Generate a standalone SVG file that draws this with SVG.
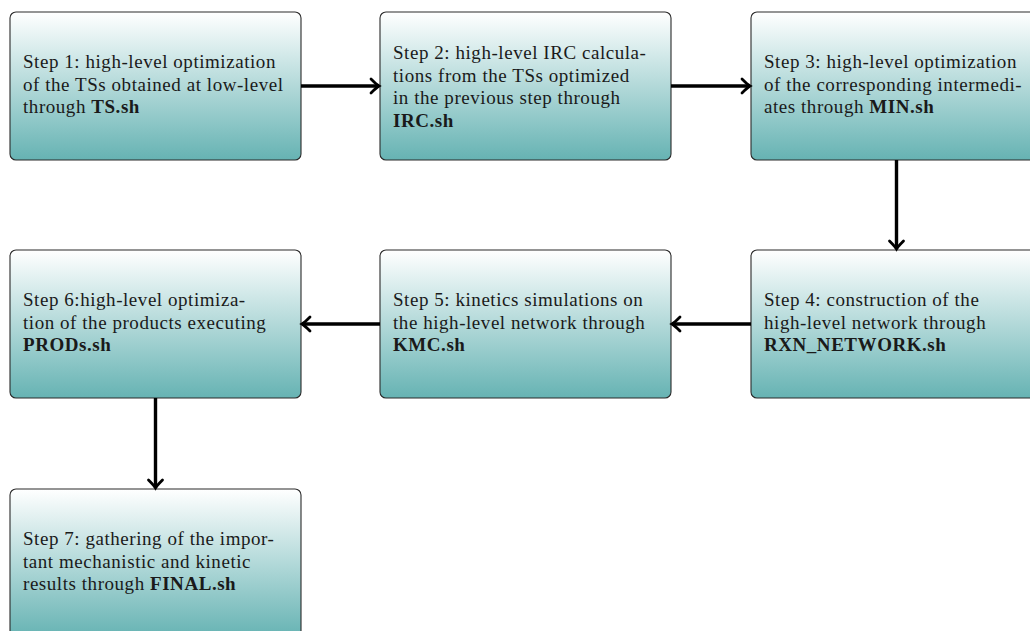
<svg xmlns="http://www.w3.org/2000/svg" width="1030" height="631" viewBox="0 0 1030 631">
<defs>
<linearGradient id="g" x1="0" y1="0" x2="0" y2="1">
<stop offset="0" stop-color="#ffffff"/>
<stop offset="1" stop-color="#66b3b3"/>
</linearGradient>
<marker id="ah" markerUnits="userSpaceOnUse" markerWidth="20" markerHeight="20" viewBox="-10 -10 20 20" refX="0" refY="0" orient="auto">
<path d="M -8 -7 Q -2.5 -1.5 0 0 Q -2.5 1.5 -8 7" fill="none" stroke="#000" stroke-width="2.8" stroke-linecap="round"/>
</marker>
</defs>
<style>
.box{fill:url(#g);stroke:#2a2a2a;stroke-width:1.1}
.t{font-family:"Liberation Serif","Times New Roman",serif;font-size:19px;letter-spacing:0.55px;fill:#1a1a1a}
.b{font-weight:bold}
.c{stroke:#000;stroke-width:3.4;fill:none;marker-end:url(#ah)}
</style>
<g id="node1">
<rect class="box" x="10" y="12" width="291" height="148" rx="6"/>
<text class="t" x="23" y="68">Step 1: high-level optimization</text>
<text class="t" x="23" y="90.5">of the TSs obtained at low-level</text>
<text class="t" x="23" y="113">through <tspan class="b">TS.sh</tspan></text>
</g>
<g id="node2">
<rect class="box" x="380" y="12" width="291" height="148" rx="6"/>
<text class="t" x="393" y="59">Step 2: high-level IRC calcula-</text>
<text class="t" x="393" y="81.5">tions from the TSs optimized</text>
<text class="t" x="393" y="104">in the previous step through</text>
<text class="t b" x="393" y="126.5">IRC.sh</text>
</g>
<g id="node3">
<rect class="box" x="751" y="12" width="291" height="148" rx="6"/>
<text class="t" x="764" y="68">Step 3: high-level optimization</text>
<text class="t" x="764" y="90.5">of the corresponding intermedi-</text>
<text class="t" x="764" y="113">ates through <tspan class="b">MIN.sh</tspan></text>
</g>
<g id="node4">
<rect class="box" x="751" y="250" width="291" height="148" rx="6"/>
<text class="t" x="764" y="306">Step 4: construction of the</text>
<text class="t" x="764" y="328.5">high-level network through</text>
<text class="t b" x="764" y="351">RXN_NETWORK.sh</text>
</g>
<g id="node5">
<rect class="box" x="380" y="250" width="291" height="148" rx="6"/>
<text class="t" x="393" y="306">Step 5: kinetics simulations on</text>
<text class="t" x="393" y="328.5">the high-level network through</text>
<text class="t b" x="393" y="351">KMC.sh</text>
</g>
<g id="node6">
<rect class="box" x="10" y="250" width="291" height="148" rx="6"/>
<text class="t" x="23" y="306">Step 6:high-level optimiza-</text>
<text class="t" x="23" y="328.5">tion of the products executing</text>
<text class="t b" x="23" y="351">PRODs.sh</text>
</g>
<g id="node7">
<rect class="box" x="10" y="489" width="291" height="148" rx="6"/>
<text class="t" x="23" y="545">Step 7: gathering of the impor-</text>
<text class="t" x="23" y="567.5">tant mechanistic and kinetic</text>
<text class="t" x="23" y="590">results through <tspan class="b">FINAL.sh</tspan></text>
</g>
<g id="connectors">
<line class="c" x1="301" y1="86" x2="379" y2="86"/>
<line class="c" x1="671" y1="86" x2="750" y2="86"/>
<line class="c" x1="896.5" y1="160" x2="896.5" y2="249"/>
<line class="c" x1="751" y1="324" x2="672" y2="324"/>
<line class="c" x1="380" y1="324" x2="302" y2="324"/>
<line class="c" x1="155.5" y1="398" x2="155.5" y2="488"/>
</g>
</svg>
